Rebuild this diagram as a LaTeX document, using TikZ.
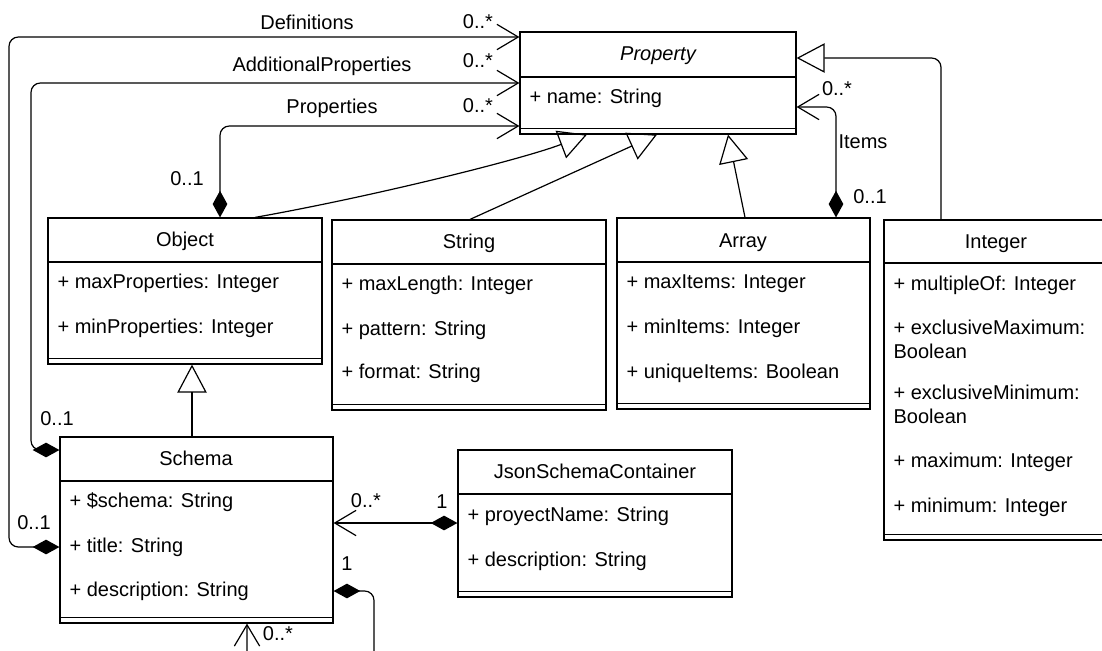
\documentclass[tikz,border=0pt]{standalone}
\usepackage{fontspec}
\setmainfont{Liberation Sans}
\usetikzlibrary{arrows.meta,fit,calc}
\newcommand\umlbox[6]{%
  \node[box, fit={(#2,#3) (#4,#5)}] (#1) {};
  \draw (#1.west |- 0,#6) -- (#1.east |- 0,#6);
  \draw ($(#1.south west)+(0,-6.5)$) -- ($(#1.south east)+(0,-6.5)$);
}
\begin{document}
\begin{tikzpicture}[x=0.75pt,y=-0.75pt,line width=0.9pt,
  box/.style={draw, inner sep=0pt, line width=0.9pt},
  txt/.style={font=\fontsize{15}{18}\selectfont, inner sep=0pt, text height=11pt, text depth=3pt},
  attr/.style={txt, anchor=west},
  comp/.style={rounded corners=7pt, {Diamond[length=20pt,width=11pt]}-{Straight Barb[length=16pt,width=19pt]}},
  gen/.style={-{Triangle[open,length=21pt,width=22pt]}}
]
\useasboundingbox (0,0) rectangle (1102,650);
\fill[white] (0,0) rectangle (1102,650);

% classes
\umlbox{prop}{520}{32}{796}{134}{77}
\node[txt, font=\fontsize{15}{18}\selectfont\itshape] (propT) at (658,55) {Property};
\node[attr] (propA1) at (529,98) {+ name: String};

\umlbox{obj}{48}{218}{322}{364}{262}
\node[txt] (objT) at (185,241) {Object};
\node[attr] (objA1) at (57,283) {+ maxProperties: Integer};
\node[attr] (objA2) at (57,328) {+ minProperties: Integer};

\umlbox{str}{332}{220}{606}{410}{264}
\node[txt] (strT) at (469,243) {String};
\node[attr] (strA1) at (341,285) {+ maxLength: Integer};
\node[attr] (strA2) at (341,330) {+ pattern: String};
\node[attr] (strA3) at (341,373) {+ format: String};

\umlbox{arr}{617}{218}{870}{409}{262}
\node[txt] (arrT) at (743,242) {Array};
\node[attr] (arrA1) at (626,283) {+ maxItems: Integer};
\node[attr] (arrA2) at (626,328) {+ minItems: Integer};
\node[attr] (arrA3) at (626,373) {+ uniqueItems: Boolean};

\umlbox{int}{884}{220}{1108}{540}{263}
\node[txt] (intT) at (996,243) {Integer};
\node[attr] (intA1) at (893,285) {+ multipleOf: Integer};
\node[attr] (intA2) at (893,329) {+ exclusiveMaximum:};
\node[attr] (intA2b) at (893,353) {Boolean};
\node[attr] (intA3) at (893,394) {+ exclusiveMinimum:};
\node[attr] (intA3b) at (893,418) {Boolean};
\node[attr] (intA4) at (893,462) {+ maximum: Integer};
\node[attr] (intA5) at (893,507) {+ minimum: Integer};

\umlbox{sch}{60}{437}{333}{623}{481}
\node[txt] (schT) at (196,460) {Schema};
\node[attr] (schA1) at (69,502) {+ \$schema: String};
\node[attr] (schA2) at (69,547) {+ title: String};
\node[attr] (schA3) at (69,591) {+ description: String};

\umlbox{jsc}{458}{450}{732}{597}{494}
\node[txt] (jscT) at (595,473) {JsonSchemaContainer};
\node[attr] (jscA1) at (467,516) {+ proyectName: String};
\node[attr] (jscA2) at (467,561) {+ description: String};

% associations
\draw[comp] (sch.west |- 0,547) -- (9,547) -- (9,37) -- (prop.west |- 0,37);
\draw[comp] (sch.west |- 0,450) -- (31,450) -- (31,83) -- (prop.west |- 0,83);
\draw[comp] (220,0 |- obj.north) -- (220,126) -- (prop.west |- 0,126);
\draw[comp] (836,0 |- arr.north) -- (836,107) -- (prop.east |- 0,107);
\draw[comp] (jsc.west |- 0,523) -- (sch.east |- 0,523);
\draw[comp] (sch.east |- 0,591) -- (374,591) -- (374,700) -- (247,700) -- (247,0 |- sch.south);

% generalizations
\draw[gen] (255,0 |- obj.north) .. controls (370,197) and (520,160) .. (587,0 |- prop.south);
\draw[gen] (470,0 |- str.north) -- (657,0 |- prop.south);
\draw[gen] (745,0 |- arr.north) -- (728,0 |- prop.south);
\draw[gen, rounded corners=7pt] (941,0 |- int.north) -- (941,58) -- (prop.east |- 0,58);
\draw[gen] (192,0 |- sch.north) -- (192,0 |- obj.south);

% labels
\node[txt] (l1) at (307,24) {Definitions};
\node[txt] (l2) at (478,23) {0..*};
\node[txt] (l3) at (322,66) {AdditionalProperties};
\node[txt] (l4) at (478,62) {0..*};
\node[txt] (l5) at (332,108) {Properties};
\node[txt] (l6) at (478,107) {0..*};
\node[txt] (l7) at (187,180) {0..1};
\node[txt] (l8) at (837,90) {0..*};
\node[txt] (l9) at (863,143) {Items};
\node[txt] (l10) at (870,198) {0..1};
\node[txt] (l11) at (57,420) {0..1};
\node[txt] (l12) at (34,524) {0..1};
\node[txt] (l13) at (366,502) {0..*};
\node[txt] (l14) at (442,503) {1};
\node[txt] (l15) at (347,565) {1};
\node[txt] (l16) at (278,635) {0..*};
\end{tikzpicture}
\end{document}
